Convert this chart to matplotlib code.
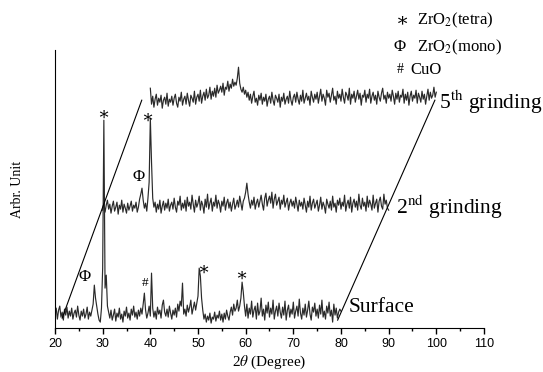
import numpy as np
import matplotlib
matplotlib.use("Agg")
import matplotlib.pyplot as plt
from matplotlib.ticker import MultipleLocator, NullLocator

plt.rcParams["mathtext.fontset"] = "stix"

# measured 2-theta grid (deg), same for all three scans
two_theta = np.arange(20, 80.001, 0.25)

# intensities (arb. units), 20 points per row = 5 deg
surface = [
    14, 20, 9, 18, 22, 11, 16, 8, 19, 13, 21, 10, 17, 12, 20, 9, 15, 18, 11, 22,
    13, 8, 17, 12, 19, 10, 14, 21, 9, 16, 12, 18, 24, 43, 30, 22, 14, 8, 6, 20,
    60, 208, 40, 53, 22, 16, 10, 18, 8, 13, 19, 7, 15, 11, 20, 9, 14, 6, 17, 12,
    21, 10, 15, 8, 19, 13, 22, 11, 16, 9, 18, 12, 20, 14, 24, 35, 18, 10, 15, 22,
    12, 55, 20, 11, 17, 9, 21, 14, 18, 10, 23, 28, 16, 12, 19, 11, 22, 15, 9, 18,
    13, 20, 11, 24, 17, 27, 22, 45, 14, 19, 12, 23, 16, 21, 28, 14, 20, 26, 18, 25,
    32, 60, 52, 30, 18, 9, 14, 6, 12, 8, 15, 5, 11, 9, 16, 7, 13, 10, 17, 8,
    14, 6, 15, 9, 18, 12, 8, 16, 21, 13, 24, 17, 20, 28, 17, 22, 30, 46, 36, 22,
    12, 24, 10, 20, 14, 27, 11, 18, 22, 9, 25, 13, 17, 30, 12, 19, 8, 23, 15, 26,
    11, 20, 14, 28, 9, 17, 22, 12, 25, 16, 10, 21, 13, 27, 8, 18, 23, 11, 19, 14,
    26, 10, 17, 22, 12, 29, 15, 9, 20, 13, 24, 11, 18, 27, 14, 8, 21, 16, 25, 12,
    19, 10, 23, 14, 28, 11, 17, 9, 22, 15, 26, 12, 18, 6, 24, 13, 20, 10, 16, 19,
    17,
]

grinding_2nd = [
    12, 19, 10, 17, 22, 13, 18, 9, 16, 21, 11, 15, 20, 8, 17, 13, 22, 10, 18, 14,
    9, 19, 12, 16, 21, 11, 17, 14, 20, 10, 15, 23, 28, 34, 22, 14, 19, 11, 24, 40,
    104, 60, 24, 15, 20, 10, 18, 13, 22, 9, 16, 21, 12, 19, 14, 23, 11, 17, 20, 13,
    24, 15, 10, 21, 17, 26, 12, 19, 14, 22, 11, 25, 16, 20, 13, 27, 18, 10, 22, 15,
    19, 26, 12, 21, 17, 9, 23, 15, 28, 13, 19, 24, 11, 20, 16, 27, 14, 22, 18, 10,
    21, 16, 25, 12, 19, 23, 14, 20, 11, 18, 24, 13, 17, 22, 15, 26, 19, 12, 21, 24,
    30, 39, 28, 20, 14, 22, 17, 25, 13, 19, 23, 15, 21, 27, 18, 12, 24, 29, 16, 22,
    26, 19, 30, 14, 23, 28, 17, 21, 25, 13, 22, 18, 27, 15, 20, 24, 12, 19, 23, 16,
    21, 14, 25, 18, 11, 22, 16, 20, 13, 24, 17, 10, 21, 15, 26, 12, 19, 23, 14, 18,
    22, 11, 17, 25, 13, 20, 16, 9, 23, 18, 14, 21, 12, 26, 15, 19, 10, 22, 17, 24,
    13, 20, 16, 27, 11, 18, 22, 14, 25, 10, 19, 23, 15, 21, 12, 28, 17, 13, 24, 16,
    20, 11, 26, 15, 22, 18, 12, 27, 14, 19, 23, 10, 21, 25, 16, 13, 28, 18, 22, 14,
    12,
]

grinding_5th = [
    28, 12, 20, 9, 17, 22, 11, 18, 14, 21, 8, 16, 19, 12, 23, 10, 17, 14, 20, 11,
    18, 22, 13, 9, 19, 15, 24, 11, 17, 20, 12, 23, 16, 10, 21, 18, 14, 25, 12, 19,
    22, 15, 26, 13, 20, 24, 16, 27, 18, 21, 29, 17, 25, 20, 28, 19, 31, 23, 26, 30,
    24, 33, 21, 29, 27, 35, 25, 32, 28, 37, 30, 34, 31, 38, 49, 33, 27, 24, 29, 22,
    26, 19, 24, 16, 22, 13, 20, 25, 14, 18, 11, 21, 16, 23, 12, 19, 15, 22, 10, 17,
    20, 13, 24, 16, 11, 21, 18, 14, 22, 9, 19, 15, 23, 12, 17, 20, 13, 25, 16, 11,
    19, 22, 14, 24, 17, 12, 21, 15, 26, 13, 18, 23, 16, 20, 11, 25, 19, 14, 22, 17,
    24, 13, 20, 27, 15, 22, 18, 11, 26, 19, 23, 14, 21, 28, 16, 20, 12, 25, 18, 22,
    15, 27, 19, 13, 24, 21, 16, 28, 12, 22, 18, 25, 14, 20, 26, 17, 23, 11, 21, 19,
    26, 14, 22, 18, 27, 13, 20, 24, 16, 21, 12, 25, 19, 15, 23, 28, 17, 21, 13, 24,
    18, 22, 15, 26, 20, 12, 23, 17, 25, 14, 21, 19, 27, 13, 22, 16, 24, 11, 20, 25,
    15, 21, 18, 26, 13, 23, 19, 14, 25, 17, 22, 12, 20, 27, 16, 24, 18, 21, 29, 19,
    24,
]

# waterfall offsets (x shift in deg, y shift in arb. units)
scans = [
    ("Surface", surface, 0, 0),
    ("2nd", grinding_2nd, 10, 106),
    ("5th", grinding_5th, 20, 212),
]

serif = ["Liberation Serif", "DejaVu Serif"]

fig = plt.figure(figsize=(5.43, 3.72), dpi=100)
ax = fig.add_axes([0.1013, 0.118, 0.790, 0.747])

for name, vals, dx, dy in scans:
    ax.plot(two_theta + dx, np.array(vals) + dy, color="#2a2a2a", lw=0.85)

# slanted guide lines joining the scan ends
ax.plot([21.5, 38.2], [10, 228], color="black", lw=0.8)
ax.plot([79.3, 99.7], [8, 228], color="black", lw=0.8)

ax.set_xlim(20, 110)
ax.set_ylim(0, 278)
ax.xaxis.set_major_locator(MultipleLocator(10))
ax.xaxis.set_minor_locator(MultipleLocator(5))
ax.yaxis.set_major_locator(NullLocator())
ax.tick_params(axis="x", which="major", direction="out", length=4, width=1,
               labelsize=9, pad=3)
ax.tick_params(axis="x", which="minor", direction="out", length=2.5, width=1)
for lbl in ax.get_xticklabels():
    lbl.set_family(["Liberation Sans", "DejaVu Sans"])
ax.spines["top"].set_visible(False)
ax.spines["right"].set_visible(False)

ax.set_xlabel(r"2$\theta$ (Degree)", family=serif, fontsize=11, labelpad=3)
ax.set_ylabel("Arbr. Unit", family=serif, fontsize=10, labelpad=22)

# peak markers
ax.text(30.07, 213, "∗", family=serif, fontsize=13, ha="center", va="center")
ax.text(39.3, 210, "∗", family=serif, fontsize=13, ha="center", va="center")
ax.text(51.05, 58, "∗", family=serif, fontsize=13, ha="center", va="center")
ax.text(59.0, 52, "∗", family=serif, fontsize=13, ha="center", va="center")
ax.text(37.6, 151, "Φ", family=serif, fontsize=12, ha="center", va="center")
ax.text(26.3, 51, "Φ", family=serif, fontsize=12, ha="center", va="center")
ax.text(38.9, 45, "#", family=serif, fontsize=9.5, ha="center", va="center")

# scan labels
ax.text(81.6, 21, "Surface", family=serif, fontsize=15.5, va="center")
ax.text(91.5, 121, r"2$^{\mathrm{nd}}$ grinding", family=serif, fontsize=15.5,
        va="center")
ax.text(100.6, 226, r"5$^{\mathrm{th}}$ grinding", family=serif, fontsize=15.5,
        va="center")

# phase key, top right
fig.text(0.729, 0.945, "∗", family=serif, fontsize=14, va="center")
fig.text(0.768, 0.945, r"ZrO$_2$(tetra)", family=serif, fontsize=12,
         va="center")
fig.text(0.725, 0.873, "Φ", family=serif, fontsize=12, va="center")
fig.text(0.768, 0.873, r"ZrO$_2$(mono)", family=serif, fontsize=12,
         va="center")
fig.text(0.731, 0.812, "#", family=serif, fontsize=10, va="center")
fig.text(0.755, 0.812, "CuO", family=serif, fontsize=12, va="center")

fig.savefig("out.png", dpi=100)
